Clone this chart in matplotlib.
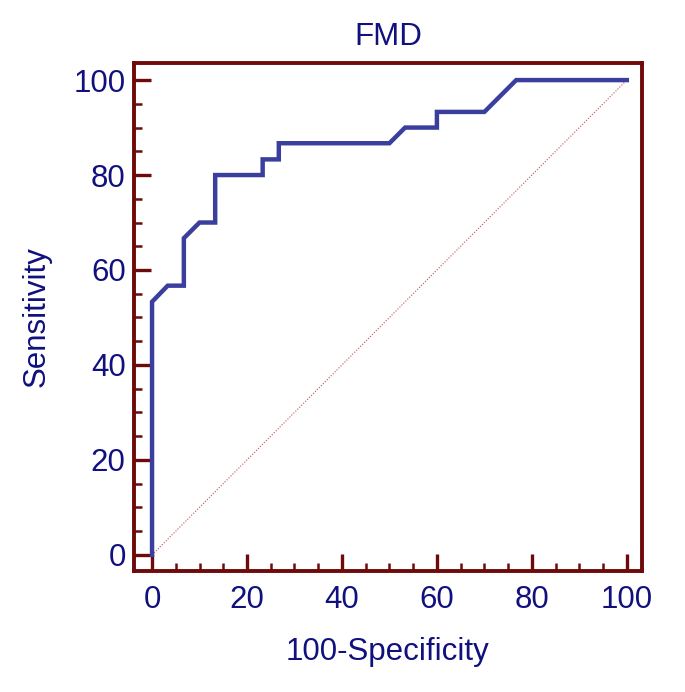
import matplotlib
matplotlib.use("Agg")
import matplotlib.pyplot as plt
from matplotlib.ticker import MultipleLocator

# ROC curve data (100-Specificity, Sensitivity)
fpr = [0, 0, 3.3, 6.7, 6.7, 10.0, 13.3, 13.3, 23.3, 23.3, 26.7, 26.7, 50.0, 53.3, 60.0, 60.0, 70.0, 76.7, 100]
tpr = [0, 53.3, 56.7, 56.7, 66.7, 70.0, 70.0, 80.0, 80.0, 83.3, 83.3, 86.7, 86.7, 90.0, 90.0, 93.3, 93.3, 100, 100]
diag = [0, 100]
xticks = [0, 20, 40, 60, 80, 100]
yticks = [0, 20, 40, 60, 80, 100]

plt.rcParams['font.family'] = ['Liberation Sans', 'DejaVu Sans']
txt = '#10107e'
spine = '#6e0a0a'
fs = 22.5

fig = plt.figure(figsize=(6.85, 6.92), dpi=100)
ax = fig.add_axes([134/685, 1-571/692, (642-134)/685, (571-63)/692])

ax.plot(fpr, tpr, color='#3a3f9e', lw=3.2, solid_joinstyle='miter', zorder=3)
ax.plot(diag, diag, color='#c05050', lw=0.8, ls=(0, (1, 1.5)), zorder=2)

ax.set_xlim(-3.8, 103.2)
ax.set_ylim(-3.4, 103.6)
ax.set_xticks(xticks)
ax.set_yticks(yticks)
ax.xaxis.set_minor_locator(MultipleLocator(5))
ax.yaxis.set_minor_locator(MultipleLocator(5))

for s in ax.spines.values():
    s.set_color(spine)
    s.set_linewidth(2.8)

ax.tick_params(which='major', direction='in', length=12, width=2.4, color=spine,
               labelsize=fs, labelcolor=txt, pad=6)
ax.tick_params(which='minor', direction='in', length=6, width=1.8, color=spine)
ax.tick_params(axis='x', pad=10)

ax.set_title('FMD', fontsize=fs, color=txt, pad=13)
ax.set_xlabel('100-Specificity', fontsize=fs, color=txt, labelpad=16)
ax.set_ylabel('Sensitivity', fontsize=fs, color=txt, labelpad=16)

fig.savefig('out.png', dpi=100, facecolor='white')
